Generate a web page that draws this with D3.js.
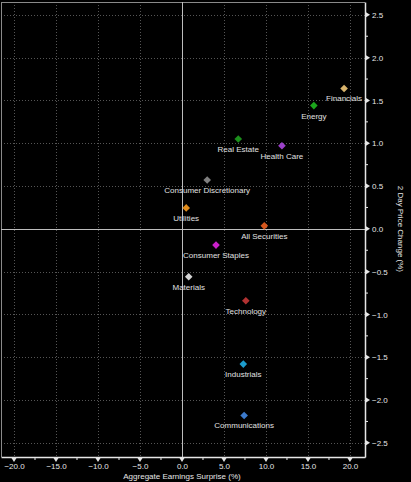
<!DOCTYPE html>
<html><head><meta charset="utf-8">
<script src="https://cdn.jsdelivr.net/npm/d3@7"></script>
<style>
html,body{margin:0;padding:0;background:#000;}
svg{display:block;}
text{font-family:"Liberation Sans",Arial,sans-serif;}
</style></head>
<body>
<script>
const categories = ["Financials","Energy","Real Estate","Health Care","Consumer Discretionary","Utilities","All Securities","Consumer Staples","Materials","Technology","Industrials","Communications"];
const surprise = [19.3, 15.7, 6.7, 11.9, 3.0, 0.5, 9.8, 4.05, 0.8, 7.6, 7.3, 7.4];
const priceChange = [1.64, 1.44, 1.05, 0.97, 0.57, 0.245, 0.035, -0.19, -0.56, -0.84, -1.58, -2.18];
const colors = ["#d9b46c","#1ca51c","#1c8f1c","#9b40c9","#7f7f7f","#e08c1c","#d4561c","#c91fc9","#d2d2d2","#b23232","#1c9ccc","#3c7acc"];
const xTicks = [-20,-15,-10,-5,0,5,10,15,20];
const yTicks = [2.5,2,1.5,1,0.5,0,-0.5,-1,-1.5,-2,-2.5];

const W = 411, H = 482;
const L = 1, R = 365, T = 2, B = 457;
const x = d3.scaleLinear().domain([-21.55, 21.79]).range([L, R]);
const y = d3.scaleLinear().domain([2.65, -2.665]).range([T, B]);

const svg = d3.select("body").append("svg").attr("width", W).attr("height", H);
svg.append("rect").attr("width", W).attr("height", H).attr("fill", "#000");

// grid
const g = svg.append("g");
g.selectAll(".vg").data(xTicks.filter(d => d !== 0)).join("line")
  .attr("x1", d => Math.round(x(d)) + 0.5).attr("x2", d => Math.round(x(d)) + 0.5).attr("y1", T).attr("y2", B)
  .attr("stroke", "#555").attr("stroke-width", 1).attr("stroke-dasharray", "1,2");
g.selectAll(".hg").data(yTicks.filter(d => d !== 0)).join("line")
  .attr("y1", d => Math.round(y(d)) + 0.5).attr("y2", d => Math.round(y(d)) + 0.5).attr("x1", L).attr("x2", R)
  .attr("stroke", "#555").attr("stroke-width", 1).attr("stroke-dasharray", "1,2");

// frame
svg.append("line").attr("x1", L).attr("x2", R).attr("y1", T + 0.5).attr("y2", T + 0.5).attr("stroke", "#8a8a8a");
svg.append("line").attr("x1", L + 0.5).attr("x2", L + 0.5).attr("y1", T).attr("y2", B).attr("stroke", "#8a8a8a");
// zero lines
svg.append("line").attr("x1", Math.round(x(0)) + 0.5).attr("x2", Math.round(x(0)) + 0.5).attr("y1", T).attr("y2", B).attr("stroke", "#bdbdbd");
svg.append("line").attr("x1", L).attr("x2", R).attr("y1", Math.round(y(0)) + 0.5).attr("y2", Math.round(y(0)) + 0.5).attr("stroke", "#bdbdbd");

// axes
const xAxis = d3.axisBottom(x).tickValues(xTicks).tickFormat(d3.format(".1f")).tickSize(0).tickPadding(6);
const xa = svg.append("g").attr("transform", `translate(0,${B})`).call(xAxis);
xa.select(".domain").attr("stroke", "#e6e6e6").attr("stroke-width", 1.5);
xa.selectAll("text").attr("fill", "#e6e6e6").attr("font-size", 8);
const xMinor = d3.range(-20, 21, 2.5);
svg.selectAll(".xm").data(xMinor).join("line")
  .attr("x1", d => x(d)).attr("x2", d => x(d)).attr("y1", B).attr("y2", B + 3)
  .attr("stroke", "#e6e6e6");
svg.selectAll(".xtri").data(xTicks).join("path")
  .attr("d", d => `M${x(d) - 2.5},${B + 1}L${x(d) + 2.5},${B + 1}L${x(d)},${B + 5}Z`)
  .attr("fill", "#e6e6e6");

const yAxis = d3.axisRight(y).tickValues(yTicks).tickFormat(d3.format(".1f")).tickSize(0).tickPadding(7);
const ya = svg.append("g").attr("transform", `translate(${R},0)`).call(yAxis);
ya.select(".domain").attr("stroke", "#e6e6e6").attr("stroke-width", 1.5);
ya.selectAll("text").attr("fill", "#e6e6e6").attr("font-size", 8);
const yMinor = d3.range(-2.5, 2.51, 0.25);
svg.selectAll(".ym").data(yMinor).join("line")
  .attr("y1", d => y(d)).attr("y2", d => y(d)).attr("x1", R).attr("x2", R + 3)
  .attr("stroke", "#e6e6e6");
svg.selectAll(".ytri").data(yTicks).join("path")
  .attr("d", d => `M${R + 1},${y(d) - 2.5}L${R + 1},${y(d) + 2.5}L${R + 5},${y(d)}Z`)
  .attr("fill", "#e6e6e6");

// titles
svg.append("text").attr("x", x(0)).attr("y", 479).attr("text-anchor", "middle")
  .attr("fill", "#e6e6e6").attr("font-size", 8).text("Aggregate Earnings Surprise (%)");
svg.append("text").attr("transform", `translate(398,${y(0)}) rotate(90)`).attr("text-anchor", "middle")
  .attr("fill", "#e6e6e6").attr("font-size", 8).text("2 Day Price Change (%)");

// points
const data = categories.map((c, i) => ({c, xv: surprise[i], yv: priceChange[i], col: colors[i]}));
const pts = svg.append("g");
pts.selectAll("path").data(data).join("path")
  .attr("d", d => { const px = x(d.xv), py = y(d.yv), r = 3.8; return `M${px},${py - r}L${px + r},${py}L${px},${py + r}L${px - r},${py}Z`; })
  .attr("fill", d => d.col);
pts.selectAll("text").data(data).join("text")
  .attr("x", d => x(d.xv)).attr("y", d => y(d.yv) + 13)
  .attr("text-anchor", "middle").attr("fill", "#e0e0e0").attr("font-size", 8)
  .text(d => d.c);
</script>
</body></html>
